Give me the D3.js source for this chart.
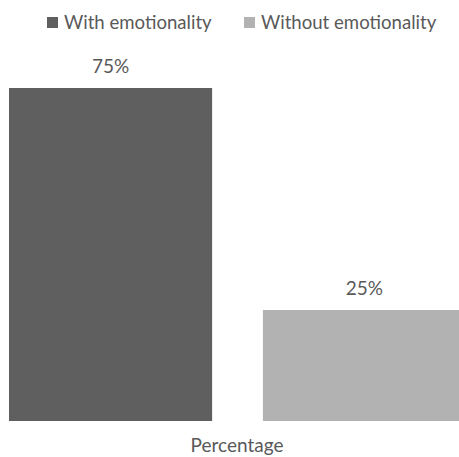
<!DOCTYPE html>
<html><head><meta charset="utf-8">
<script src="https://cdn.jsdelivr.net/npm/d3@7"></script>
<style>body{margin:0;background:#fff}svg{display:block}text{font-family:Lato,"Open Sans",sans-serif;fill:#595959}</style>
</head><body><svg id="c" width="459" height="457"></svg>
<script>
const category = ["Percentage"];
const series = ["With emotionality", "Without emotionality"];
const values = [75, 25];
const labels = ["75%", "25%"];
const colors = ["#5f5f5f", "#b2b2b2"];

const svg = d3.select("#c");
const baseY = 421, topY = 88;
const y = d3.scaleLinear().domain([0, 75]).range([baseY, topY]);
const x0 = d3.scaleBand().domain(category).range([9, 466]).padding(0);
const x1 = d3.scaleBand().domain(series).range([0, x0.bandwidth()]).paddingInner(0.2).paddingOuter(0);

const g = svg.append("g");
series.forEach((s, i) => {
  const bx = x0(category[0]) + x1(s);
  g.append("rect").attr("x", bx).attr("y", y(values[i])).attr("width", x1.bandwidth())
    .attr("height", baseY - y(values[i])).attr("fill", colors[i]);
  g.append("text").attr("x", bx + x1.bandwidth() / 2).attr("y", y(values[i]) - 15)
    .attr("text-anchor", "middle").attr("font-size", 19).text(labels[i]);
});
svg.append("text").attr("x", 237).attr("y", 452).attr("text-anchor", "middle")
  .attr("font-size", 19).text(category[0]);

const legX = [47, 244];
series.forEach((s, i) => {
  svg.append("rect").attr("x", legX[i]).attr("y", 17).attr("width", 11).attr("height", 11).attr("fill", colors[i]);
  svg.append("text").attr("x", legX[i] + 17).attr("y", 29).attr("font-size", 18.6).text(s);
});
</script></body></html>
